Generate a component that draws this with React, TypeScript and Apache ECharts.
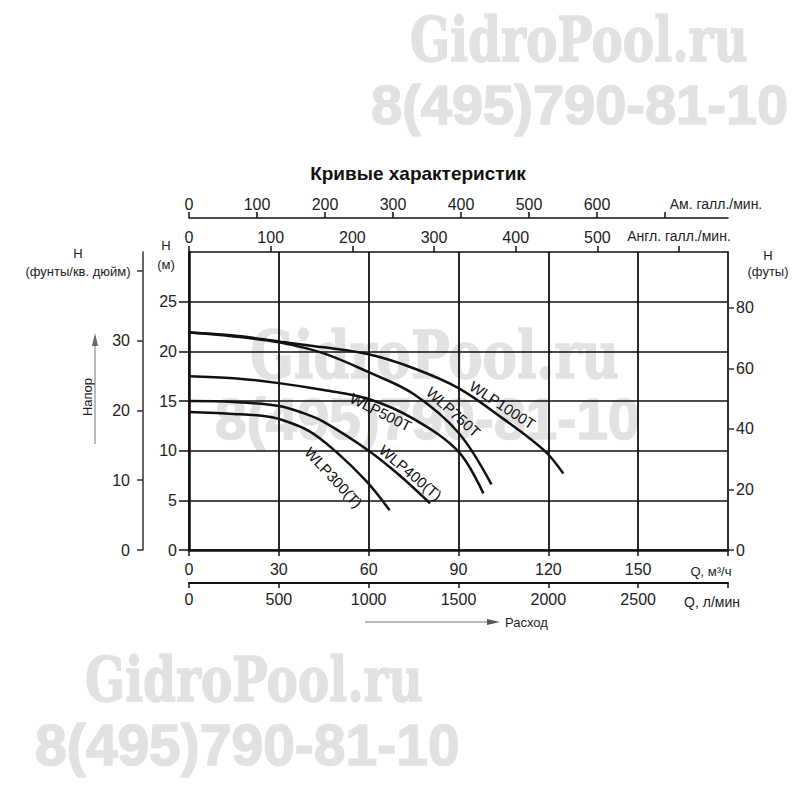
import React, { useEffect, useRef } from 'react';
import * as echarts from 'echarts';

const FONT = '"Liberation Sans", Arial, sans-serif';

// ---- data ----
const curveNames = ['WLP1000T', 'WLP750T', 'WLP500T', 'WLP400(T)', 'WLP300(T)'];

const wlp1000Q = [0, 15, 30, 45, 60, 75, 90, 105, 118.7, 125];
const wlp1000H = [21.9, 21.6, 21.0, 20.4, 19.7, 18.3, 16.3, 13.2, 10.0, 7.7];

const wlp750Q = [0, 15, 30, 45, 60, 75, 90, 101];
const wlp750H = [21.9, 21.5, 20.9, 19.8, 17.9, 15.7, 11.8, 6.6];

const wlp500Q = [0, 15, 30, 45, 60, 75, 90, 98.3];
const wlp500H = [17.5, 17.3, 16.8, 16.1, 15.2, 13.2, 9.9, 5.7];

const wlp400Q = [0, 15, 30, 38, 45, 60, 70, 80.5];
const wlp400H = [15.0, 14.9, 14.5, 13.8, 12.9, 10.0, 7.6, 4.7];

const wlp300Q = [0, 15, 25, 30, 40, 48.7, 59.3, 67];
const wlp300H = [13.9, 13.7, 13.5, 13.2, 12.0, 10.0, 6.9, 4.0];

// curve label anchors (data space) and angles
const labelQ = [104.7, 88.3, 64, 74, 48.3];
const labelH = [14.6, 13.9, 13.9, 7.8, 7.3];
const labelAngle = [-33, -42, -27, -40, -47];

// axis ticks / labels
const qM3hTicks = [0, 30, 60, 90, 120, 150, 180];
const qM3hLabels = [0, 30, 60, 90, 120, 150];
const qLminTicks = [0, 500, 1000, 1500, 2000, 2500, 3000];
const qLminLabels = [0, 500, 1000, 1500, 2000, 2500];
const usGpmTicks = [0, 100, 200, 300, 400, 500, 600, 700];
const usGpmLabels = [0, 100, 200, 300, 400, 500, 600];
const impGpmTicks = [0, 100, 200, 300, 400, 500, 600];
const impGpmLabels = [0, 100, 200, 300, 400, 500];
const headMTicks = [0, 5, 10, 15, 20, 25];
const headMLabels = [0, 5, 10, 15, 20, 25];
const headPsiTicks = [0, 10, 20, 30, 40];
const headPsiLabels = [0, 10, 20, 30];
const headFtTicks = [0, 20, 40, 60, 80];
const headFtLabels = [0, 20, 40, 60, 80];

const Q_MAX = 180; // m3/h
const H_MAX = 30; // m
const M3H_TO_LMIN = 1000 / 60;
const M3H_TO_USGPM = 4.4029;
const M3H_TO_IMPGPM = 3.6662;
const M_TO_FT = 3.2808;
const M_TO_PSI = 1.4223;

const INK = '#111';
const LABEL = '#222';

function zip(q: number[], h: number[]) {
  return q.map((v, i) => [v, h[i]]);
}

const curveQ = [wlp1000Q, wlp750Q, wlp500Q, wlp400Q, wlp300Q];
const curveH = [wlp1000H, wlp750H, wlp500H, wlp400H, wlp300H];

function axisLabelBase(margin: number, customValues: number[]) {
  return {
    show: true,
    margin,
    fontSize: 16,
    color: LABEL,
    fontFamily: FONT,
    customValues,
    formatter: (v: number) => String(Math.round(v)),
  };
}

export default function App() {
  const ref = useRef<HTMLDivElement>(null);

  useEffect(() => {
    if (!ref.current) return;
    const chart = echarts.init(ref.current, undefined, { renderer: 'svg' });

    const wm = '#e2e2e2';
    const wmText = (text: string, x: number, y: number, font: string, scaleX: number) => ({
      type: 'text', z: -1, x, y, scaleX,
      style: { text, font, fill: wm, stroke: wm, lineWidth: 1.5, textAlign: 'left', textVerticalAlign: 'top' },
    });
    const lbl = (text: string, x: number, y: number, size = 13, align = 'center') => ({
      type: 'text', x, y,
      style: { text, font: `${size}px ${FONT}`, fill: LABEL, textAlign: align, textVerticalAlign: 'middle' },
    });

    const graphic: any[] = [
      // watermarks
      wmText('GidroPool.ru', 410, 8, 'bold 62px "DejaVu Serif"', 0.76),
      wmText('8(495)790-81-10', 371, 76, 'bold 56px "Liberation Sans"', 1),
      wmText('GidroPool.ru', 250, 322, 'bold 66px "DejaVu Serif"', 0.78),
      wmText('8(495)790-81-10', 215, 390, 'bold 57px "Liberation Sans"', 1),
      wmText('GidroPool.ru', 85, 648, 'bold 62px "DejaVu Serif"', 0.76),
      wmText('8(495)790-81-10', 35, 716, 'bold 57px "Liberation Sans"', 1),

      // title
      { type: 'text', x: 418, y: 173, style: { text: 'Кривые характеристик', font: `bold 19px ${FONT}`, fill: INK, textAlign: 'center', textVerticalAlign: 'middle' } },

      // unit labels on the flow axes
      lbl('Ам. галл./мин.', 716, 204, 14),
      lbl('Англ. галл./мин.', 679, 236, 14),
      lbl('Q, м³/ч', 711, 571, 13),
      lbl('Q, л/мин', 712, 602, 14),

      // head axis titles
      lbl('H', 78, 253, 13),
      lbl('(фунты/кв. дюйм)', 78, 271, 13),
      lbl('H', 166, 245, 13),
      lbl('(м)', 166, 264, 13),
      lbl('H', 768, 255, 13),
      lbl('(футы)', 768, 271, 13),

      // Напор with arrow
      { type: 'text', x: 87, y: 397, rotation: Math.PI / 2, style: { text: 'Напор', font: `13px ${FONT}`, fill: LABEL, textAlign: 'center', textVerticalAlign: 'middle' } },
      { type: 'line', shape: { x1: 95, y1: 444, x2: 95, y2: 342 }, style: { stroke: '#777', lineWidth: 1 } },
      { type: 'polygon', shape: { points: [[95, 333], [92, 346], [98, 346]] }, style: { fill: '#666' } },

      // Расход with arrow
      { type: 'line', shape: { x1: 365, y1: 622, x2: 490, y2: 622 }, style: { stroke: '#777', lineWidth: 1 } },
      { type: 'polygon', shape: { points: [[500, 622], [487, 619], [487, 625]] }, style: { fill: '#555' } },
      lbl('Расход', 505, 622, 13, 'left'),
    ];

    const series: any[] = curveNames.map((name, i) => ({
      type: 'line',
      name,
      xAxisIndex: 0,
      yAxisIndex: 0,
      data: zip(curveQ[i], curveH[i]),
      showSymbol: false,
      symbol: 'none',
      smooth: 0.35,
      z: 5,
      lineStyle: { color: INK, width: 2.5 },
      markPoint: {
        silent: true,
        symbol: 'circle',
        symbolSize: 1,
        itemStyle: { color: 'rgba(0,0,0,0)' },
        label: {
          show: true,
          position: 'inside',
          formatter: name,
          rotate: labelAngle[i],
          fontSize: 15,
          color: INK,
          fontFamily: FONT,
        },
        data: [{ coord: [labelQ[i], labelH[i]], name }],
      },
    }));

    const option: any = {
      animation: false,
      backgroundColor: '#fff',
      grid: { left: 189, right: 72, top: 252, bottom: 250 },
      graphic,
      xAxis: [
        {
          type: 'value', position: 'bottom', min: 0, max: Q_MAX, interval: 30,
          axisLine: { show: true, onZero: false, lineStyle: { color: INK, width: 2.5 } },
          axisTick: { show: true, length: 6, lineStyle: { color: INK, width: 1.5 }, customValues: qM3hTicks },
          axisLabel: axisLabelBase(11, qM3hLabels),
          splitLine: { show: true, lineStyle: { color: INK, width: 1.8 } },
        },
        {
          type: 'value', position: 'bottom', offset: 33, min: 0, max: Q_MAX * M3H_TO_LMIN, interval: 500,
          axisLine: { show: true, onZero: false, lineStyle: { color: INK, width: 2 } },
          axisTick: { show: true, length: 5, lineStyle: { color: INK, width: 1.5 }, customValues: qLminTicks },
          axisLabel: axisLabelBase(8, qLminLabels),
          splitLine: { show: false },
        },
        {
          type: 'value', position: 'top', offset: 0, min: 0, max: Q_MAX * M3H_TO_IMPGPM, interval: 100,
          axisLine: { show: true, onZero: false, lineStyle: { color: INK, width: 1.5 } },
          axisTick: { show: true, length: 6, lineStyle: { color: INK, width: 1.5 }, customValues: impGpmTicks },
          axisLabel: axisLabelBase(7, impGpmLabels),
          splitLine: { show: false },
        },
        {
          type: 'value', position: 'top', offset: 34, min: 0, max: Q_MAX * M3H_TO_USGPM, interval: 100,
          axisLine: { show: true, onZero: false, lineStyle: { color: INK, width: 1.5 } },
          axisTick: { show: true, length: 6, lineStyle: { color: INK, width: 1.5 }, customValues: usGpmTicks },
          axisLabel: axisLabelBase(6, usGpmLabels),
          splitLine: { show: false },
        },
      ],
      yAxis: [
        {
          type: 'value', position: 'left', min: 0, max: H_MAX, interval: 5,
          axisLine: { show: true, onZero: false, lineStyle: { color: INK, width: 2.5 } },
          axisTick: { show: true, length: 10, lineStyle: { color: INK, width: 1.5 }, customValues: headMTicks },
          axisLabel: axisLabelBase(12, headMLabels),
          splitLine: { show: true, lineStyle: { color: INK, width: 1.6 } },
        },
        {
          type: 'value', position: 'left', offset: 46, min: 0, max: H_MAX * M_TO_PSI, interval: 10,
          axisLine: { show: true, onZero: false, lineStyle: { color: '#333', width: 1.5 } },
          axisTick: { show: true, length: 6, lineStyle: { color: '#333', width: 1.5 }, customValues: headPsiTicks },
          axisLabel: axisLabelBase(13, headPsiLabels),
          splitLine: { show: false },
        },
        {
          type: 'value', position: 'right', min: 0, max: H_MAX * M_TO_FT, interval: 20,
          axisLine: { show: true, onZero: false, lineStyle: { color: '#333', width: 1.5 } },
          axisTick: { show: true, length: 6, lineStyle: { color: '#333', width: 1.5 }, customValues: headFtTicks },
          axisLabel: axisLabelBase(8, headFtLabels),
          splitLine: { show: false },
        },
      ],
      series,
    };

    chart.setOption(option);
    return () => chart.dispose();
  }, []);

  return (
    <div
      ref={ref}
      style={{ position: 'fixed', left: 0, top: 0, width: 800, height: 800, background: '#fff' }}
    />
  );
}
